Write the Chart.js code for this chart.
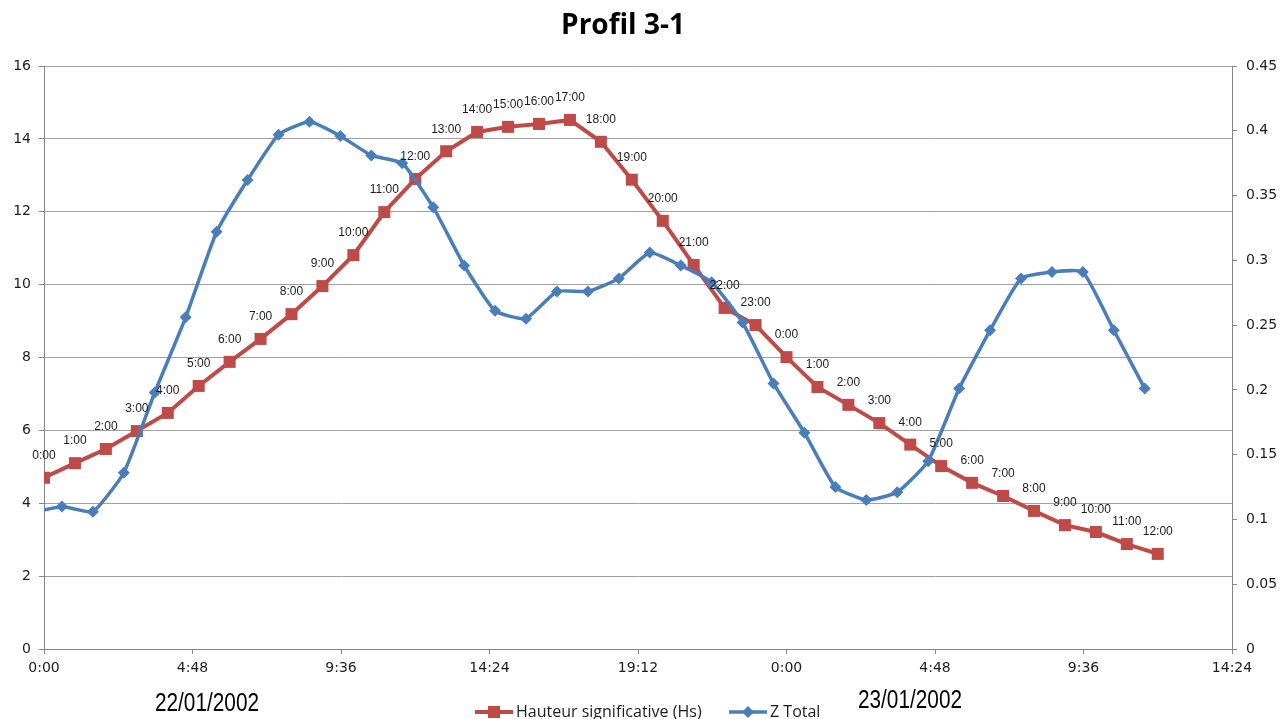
<!DOCTYPE html>
<html>
<head>
<meta charset="utf-8">
<script src="https://cdn.jsdelivr.net/npm/chart.js@4.4.0/dist/chart.umd.min.js"></script>
<style>
  html, body { margin: 0; padding: 0; background: #fff; }
  #wrap { width: 1282px; height: 719px; }
</style>
</head>
<body>
<div id="wrap"><canvas id="chart" width="1282" height="719"></canvas></div>
<script>
// hours counted from 22/01/2002 0:00
const hsHours = [0, 1, 2, 3, 4, 5, 6, 7, 8, 9, 10, 11, 12, 13, 14, 15, 16, 17, 18,
  19, 20, 21, 22, 23, 24, 25, 26, 27, 28, 29, 30, 31, 32, 33, 34, 35, 36];
const hsValues = [4.70, 5.10, 5.49, 5.98, 6.48, 7.22, 7.88, 8.51, 9.19, 9.96, 10.81, 11.99,
  12.90, 13.66, 14.19, 14.33, 14.41, 14.52, 13.92, 12.88, 11.75, 10.54, 9.36, 8.89,
  8.01, 7.19, 6.70, 6.20, 5.61, 5.02, 4.56, 4.20, 3.79, 3.40, 3.21, 2.88, 2.61];
const hsLabels = ['0:00', '1:00', '2:00', '3:00', '4:00', '5:00', '6:00', '7:00', '8:00',
  '9:00', '10:00', '11:00', '12:00', '13:00', '14:00', '15:00', '16:00', '17:00', '18:00',
  '19:00', '20:00', '21:00', '22:00', '23:00', '0:00', '1:00', '2:00', '3:00', '4:00',
  '5:00', '6:00', '7:00', '8:00', '9:00', '10:00', '11:00', '12:00'];

// Z total is sampled at hh:35, the first sample (21/01 23:35) falls before the axis
const zHours = [-0.42, 0.58, 1.58, 2.58, 3.58, 4.58, 5.58, 6.58, 7.58, 8.58, 9.58, 10.58,
  11.58, 12.58, 13.58, 14.58, 15.58, 16.58, 17.58, 18.58, 19.58, 20.58, 21.58, 22.58,
  23.58, 24.58, 25.58, 26.58, 27.58, 28.58, 29.58, 30.58, 31.58, 32.58, 33.58, 34.58, 35.58];
const zValues = [0.105, 0.110, 0.106, 0.136, 0.198, 0.256, 0.322, 0.362, 0.397, 0.407,
  0.396, 0.381, 0.375, 0.341, 0.296, 0.261, 0.255, 0.276, 0.276, 0.286, 0.306, 0.296,
  0.283, 0.252, 0.205, 0.167, 0.125, 0.115, 0.121, 0.145, 0.201, 0.246, 0.286, 0.291,
  0.291, 0.246, 0.201];

const xTicks = [0, 4.8, 9.6, 14.4, 19.2, 24, 28.8, 33.6, 38.4];
const leftTicks = [0, 2, 4, 6, 8, 10, 12, 14, 16];
const rightTicks = [0, 0.05, 0.1, 0.15, 0.2, 0.25, 0.3, 0.35, 0.4, 0.45];

const RED = '#BE4B48';
const BLUE = '#4A7EBB';
const AXIS = '#868686';
const TXT = '#1c1c1c';
const tickFont = { family: '"DejaVu Sans", sans-serif', size: 14 };

function hourLabel(h) {
  const m = Math.round(h * 60) % 1440;
  return Math.floor(m / 60) + ':' + String(m % 60).padStart(2, '0');
}

const overlay = {
  id: 'overlay',
  afterDatasetsDraw(chart) {
    const ctx = chart.ctx;
    const pts = chart.getDatasetMeta(1).data;
    ctx.save();
    ctx.fillStyle = TXT;
    ctx.textAlign = 'center';
    ctx.textBaseline = 'middle';
    ctx.font = '12px "Liberation Sans", Arial, sans-serif';
    pts.forEach((p, i) => ctx.fillText(hsLabels[i], p.x, p.y - 22));
    ctx.restore();
  },
  afterDraw(chart) {
    const ctx = chart.ctx;
    ctx.save();
    ctx.fillStyle = '#000';
    ctx.textAlign = 'center';
    ctx.textBaseline = 'middle';
    ctx.font = 'bold 28px "Open Sans", sans-serif';
    ctx.fillText('Profil 3-1', 623, 26);

    // date captions under the axis (narrow, tall text as in the sheet)
    ctx.font = '26px "Liberation Sans", Arial, sans-serif';
    [['22/01/2002', 207, 704], ['23/01/2002', 910, 701]].forEach(([t, x, y]) => {
      ctx.save();
      ctx.translate(x, y);
      ctx.scale(0.8, 1);
      ctx.fillText(t, 0, 0);
      ctx.restore();
    });

    // legend
    const ly = 712;
    ctx.textAlign = 'left';
    ctx.font = '16px "Open Sans", sans-serif';
    ctx.lineWidth = 4;
    ctx.strokeStyle = RED;
    ctx.beginPath(); ctx.moveTo(475, ly); ctx.lineTo(513, ly); ctx.stroke();
    ctx.fillStyle = RED;
    ctx.fillRect(488, ly - 6, 12, 12);
    ctx.fillStyle = TXT;
    ctx.fillText('Hauteur significative (Hs)', 516, ly);

    ctx.lineWidth = 3.5;
    ctx.strokeStyle = BLUE;
    ctx.beginPath(); ctx.moveTo(729, ly); ctx.lineTo(767, ly); ctx.stroke();
    ctx.fillStyle = BLUE;
    ctx.beginPath();
    ctx.moveTo(748, ly - 6); ctx.lineTo(754, ly); ctx.lineTo(748, ly + 6); ctx.lineTo(742, ly);
    ctx.closePath(); ctx.fill();
    ctx.fillStyle = TXT;
    ctx.fillText('Z Total', 770, ly);
    ctx.restore();
  }
};

new Chart(document.getElementById('chart'), {
  type: 'line',
  data: {
    datasets: [
      {
        label: 'Z Total',
        data: zHours.map((h, i) => ({ x: h, y: zValues[i] })),
        yAxisID: 'y1',
        borderColor: BLUE,
        backgroundColor: BLUE,
        borderWidth: 3.5,
        pointStyle: 'rectRot',
        pointRadius: 6,
        pointBorderWidth: 0,
        tension: 0.15
      },
      {
        label: 'Hauteur significative (Hs)',
        data: hsHours.map((h, i) => ({ x: h, y: hsValues[i] })),
        yAxisID: 'y',
        borderColor: RED,
        backgroundColor: RED,
        borderWidth: 4,
        pointStyle: 'rect',
        pointRadius: 8.5,
        pointBorderWidth: 0,
        tension: 0
      }
    ]
  },
  options: {
    responsive: false,
    animation: false,
    layout: { padding: { top: 66, left: 0, right: 0, bottom: 0 } },
    plugins: {
      legend: { display: false },
      title: { display: false },
      tooltip: { enabled: false }
    },
    scales: {
      x: {
        type: 'linear',
        min: 0,
        max: 38.4,
        afterBuildTicks: s => { s.ticks = xTicks.map(v => ({ value: v })); },
        afterFit: s => { s.height = 70; },
        ticks: { callback: v => hourLabel(v), font: tickFont, color: TXT, padding: 6, maxRotation: 0, autoSkip: false },
        grid: { drawOnChartArea: false, tickLength: 5, color: AXIS },
        border: { color: AXIS }
      },
      y: {
        position: 'left',
        min: 0,
        max: 16,
        afterBuildTicks: s => { s.ticks = leftTicks.map(v => ({ value: v })); },
        afterFit: s => { s.width = 44; },
        ticks: { font: tickFont, color: TXT, padding: 8 },
        grid: { color: '#A0A0A0', tickLength: 5, tickColor: AXIS },
        border: { color: AXIS }
      },
      y1: {
        position: 'right',
        min: 0,
        max: 0.45,
        afterBuildTicks: s => { s.ticks = rightTicks.map(v => ({ value: v })); },
        afterFit: s => { s.width = 50; },
        ticks: { callback: v => String(+v.toFixed(2)), font: tickFont, color: TXT, padding: 9 },
        grid: { drawOnChartArea: false, tickLength: 5, color: AXIS },
        border: { color: AXIS }
      }
    }
  },
  plugins: [overlay]
});
</script>
</body>
</html>
